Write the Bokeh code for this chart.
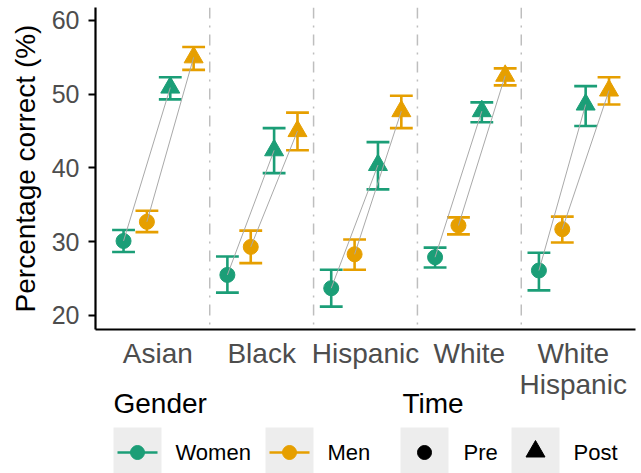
import numpy as np
from bokeh.plotting import figure
from bokeh.models import ColumnDataSource, Range1d, FixedTicker, Span
from bokeh.layouts import column
from bokeh.core.properties import value
from bokeh.embed import file_html
from bokeh.resources import INLINE

# ---------------- data ----------------
races = ["Asian", "Black", "Hispanic", "White", "White\nHispanic"]
y_ticks = [20, 30, 40, 50, 60]

women_pre = [30.1, 25.5, 23.7, 27.9, 26.1]
women_pre_lo = [28.6, 23.1, 21.2, 26.5, 23.4]
women_pre_hi = [31.6, 28.0, 26.2, 29.2, 28.5]

men_pre = [32.7, 29.3, 28.3, 32.2, 31.7]
men_pre_lo = [31.3, 27.1, 26.2, 31.0, 29.9]
men_pre_hi = [34.2, 31.5, 30.3, 33.3, 33.4]

women_post = [50.9, 42.4, 40.4, 47.7, 48.6]
women_post_lo = [49.3, 39.3, 37.1, 46.2, 45.7]
women_post_hi = [52.3, 45.4, 43.5, 48.9, 51.1]

men_post = [55.0, 45.0, 47.7, 52.5, 50.5]
men_post_lo = [53.3, 42.4, 45.4, 51.2, 48.6]
men_post_hi = [56.4, 47.5, 49.8, 53.5, 52.3]

gender_labels = ["Women", "Men"]
time_labels = ["Pre", "Post"]

# ---------------- style ----------------
GREEN = "#1B9E77"
ORANGE = "#E69F00"
FONT = "Liberation Sans"
offsets = {("W", "Pre"): -0.33, ("M", "Pre"): -0.105,
           ("W", "Post"): 0.12, ("M", "Post"): 0.345}
cap = 0.11

idx = np.arange(1, len(races) + 1)

FL, FR, FT, FB = 95, 635, 7, 329     # frame edges in page pixels
BOTTOM_BORDER = 100

p = figure(frame_width=FR - FL, frame_height=FB - FT, output_backend="svg",
           toolbar_location=None,
           x_range=Range1d(0.4, 5.6), y_range=Range1d(18.1, 61.76),
           min_border_left=FL, min_border_right=641 - FR, min_border_top=FT,
           min_border_bottom=BOTTOM_BORDER)
p.outline_line_color = None
p.grid.visible = False
p.background_fill_color = "white"
p.border_fill_color = "white"

# separators
for s in idx[:-1] + 0.5:
    p.add_layout(Span(location=s, dimension="height", line_color="#BEBEBE",
                      line_width=1.5, line_dash="11 7 2 7"))

series = [
    ("W", "Pre", women_pre, women_pre_lo, women_pre_hi, GREEN, "circle"),
    ("M", "Pre", men_pre, men_pre_lo, men_pre_hi, ORANGE, "circle"),
    ("W", "Post", women_post, women_post_lo, women_post_hi, GREEN, "triangle"),
    ("M", "Post", men_post, men_post_lo, men_post_hi, ORANGE, "triangle"),
]

for g, t, vals, lo, hi, col, mk in series:
    x = idx + offsets[(g, t)]
    src = ColumnDataSource(dict(x=x, xl=x - cap, xr=x + cap, y=vals, lo=lo, hi=hi))
    p.segment(x0="x", y0="lo", x1="x", y1="hi", source=src, line_color=col, line_width=2.6)
    p.segment(x0="xl", y0="lo", x1="xr", y1="lo", source=src, line_color=col, line_width=2.6)
    p.segment(x0="xl", y0="hi", x1="xr", y1="hi", source=src, line_color=col, line_width=2.6)
    p.scatter(x="x", y="y", source=src, marker=mk, size=19 if mk == "triangle" else 15,
              fill_color=col, line_color=col)

# connecting lines pre -> post
for g, pre, post in [("W", women_pre, women_post), ("M", men_pre, men_post)]:
    src = ColumnDataSource(dict(x0=idx + offsets[(g, "Pre")], y0=pre,
                                x1=idx + offsets[(g, "Post")], y1=post))
    p.segment(x0="x0", y0="y0", x1="x1", y1="y1", source=src,
              line_color="#A9A9A9", line_width=1)

# axes
xa = p.xaxis[0]
xa.ticker = FixedTicker(ticks=list(idx))
xa.major_label_overrides = {int(i): r for i, r in zip(idx, races)}
xa.major_tick_out = 0
xa.major_tick_in = 0
xa.minor_tick_line_color = None
xa.axis_line_width = 2.2
xa.axis_line_color = "black"
xa.major_label_text_font = FONT
xa.major_label_text_font_size = "28px"
xa.major_label_text_line_height = 1.0
xa.major_label_text_color = "#4D4D4D"
xa.major_label_standoff = 8

ya = p.yaxis[0]
ya.ticker = FixedTicker(ticks=y_ticks)
ya.major_tick_out = 7
ya.major_tick_in = 0
ya.major_tick_line_width = 2
ya.major_tick_line_color = "black"
ya.minor_tick_line_color = None
ya.axis_line_width = 2.2
ya.axis_line_color = "black"
ya.major_label_text_font = FONT
ya.major_label_text_font_size = "25px"
ya.major_label_text_color = "#4D4D4D"
ya.major_label_standoff = 9
ya.axis_label = "Percentage correct (%)"
ya.axis_label_text_font = FONT
ya.axis_label_text_font_size = "28px"
ya.axis_label_text_font_style = "normal"
ya.axis_label_text_color = "black"
ya.axis_label_standoff = 8

# ---------------- legend (separate panel, page-pixel coordinates) ----------------
LEG_TOP, LEG_BOT = 388, 473
main_h = FB + BOTTOM_BORDER
leg = figure(frame_width=FR - FL, frame_height=LEG_BOT - LEG_TOP, output_backend="svg",
             toolbar_location=None,
             x_range=Range1d(FL, FR), y_range=Range1d(LEG_BOT, LEG_TOP),
             min_border_left=FL, min_border_right=641 - FR, min_border_top=0,
             min_border_bottom=0,
             margin=(LEG_TOP - main_h, 0, 0, 0))
leg.axis.visible = False
leg.grid.visible = False
leg.outline_line_color = None
leg.background_fill_alpha = 0
leg.border_fill_alpha = 0

KEY_BG = "#EDEDED"
key_left = [113, 265, 400, 511]
KEY_Y = 452
leg.quad(left=key_left, right=[k + 48 for k in key_left], top=[427] * 4, bottom=[480] * 4,
         fill_color=KEY_BG, line_color=None)

gcols = [GREEN, ORANGE]
gx = [key_left[0] + 24, key_left[1] + 24]
leg.segment(x0=[x - 20 for x in gx], x1=[x + 20 for x in gx], y0=[KEY_Y] * 2, y1=[KEY_Y] * 2,
            line_color=gcols, line_width=2.5)
leg.scatter(x=gx, y=[KEY_Y] * 2, marker="circle", size=14, fill_color=gcols, line_color=gcols)
leg.scatter(x=[key_left[2] + 24], y=[KEY_Y], marker="circle", size=14, color="black")
leg.scatter(x=[key_left[3] + 24], y=[KEY_Y - 1], marker="triangle", size=19, color="black")

leg.text(x=[113, 402], y=[403, 403], text=["Gender", "Time"], text_font=value(FONT),
         text_font_size="28px", text_baseline="middle", text_align="left", text_color="black")
leg.text(x=[175, 327, 463, 573], y=[KEY_Y] * 4, text=gender_labels + time_labels,
         text_font=value(FONT), text_font_size="22px", text_baseline="middle",
         text_align="left", text_color="black")

layout = column(p, leg, spacing=0)
open("out.html", "w").write(file_html(layout, INLINE))
